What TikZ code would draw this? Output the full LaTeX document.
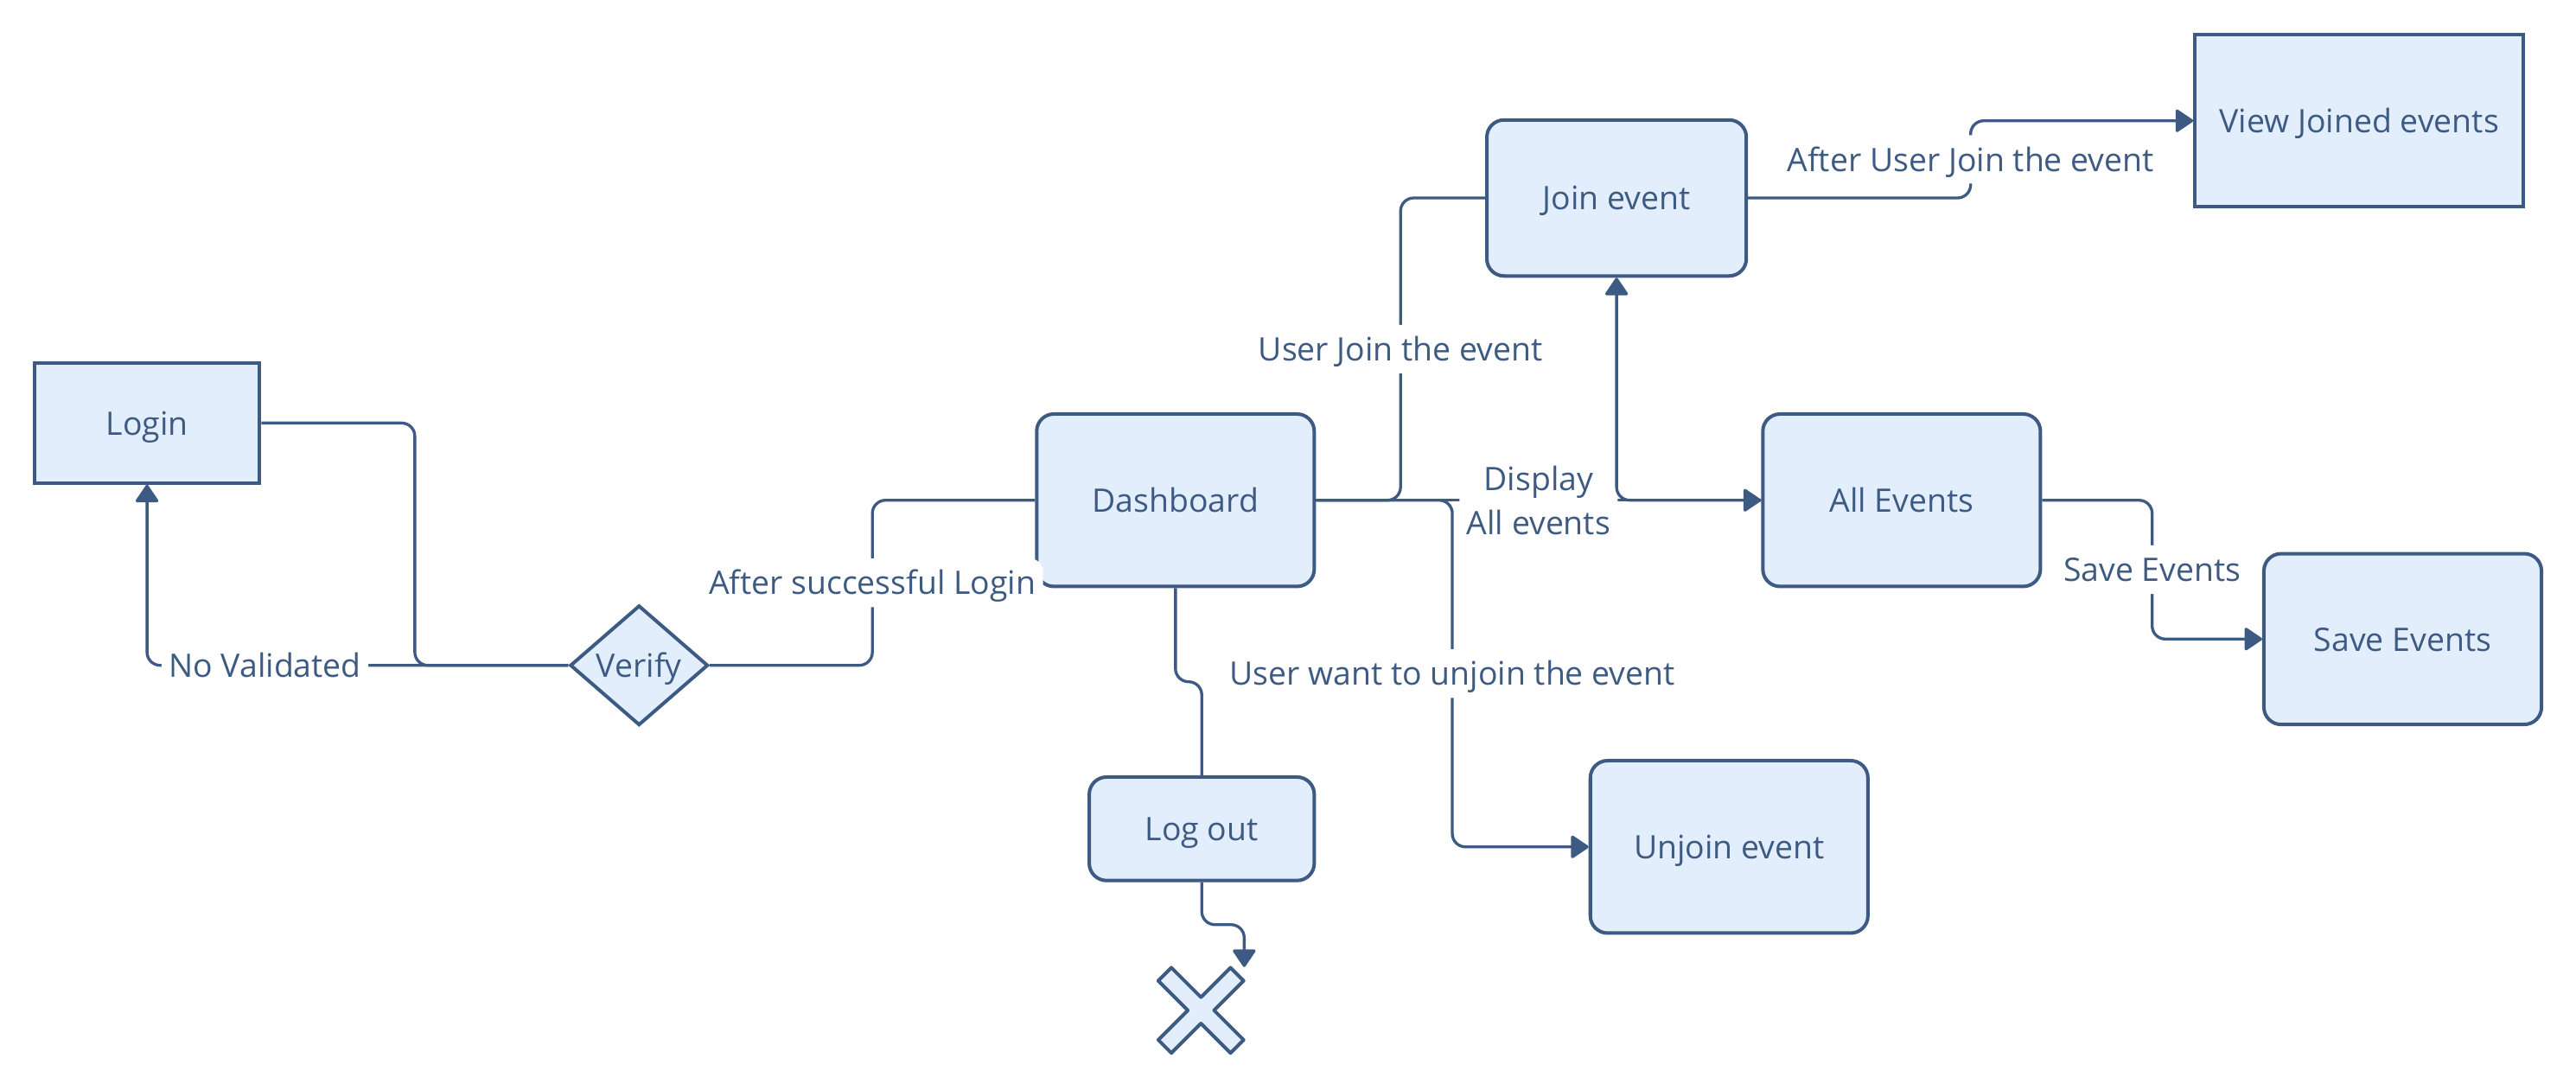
\documentclass[tikz,border=0pt]{standalone}
\usepackage{fontspec}
\setmainfont{Open Sans}
\usepackage{tikz}
\usetikzlibrary{%
  arrows.meta,%
  calc,%
  shapes.geometric,% wg. diamond
  positioning%
}
\definecolor{lineblue}{RGB}{61,90,130}
\definecolor{boxfill}{RGB}{227,238,253}

\begin{document}
\begin{tikzpicture}[
    x=0.02cm, y=-0.02cm,
    font=\fontsize{11.2}{13.5}\selectfont,
    box/.style={draw=lineblue, fill=boxfill, line width=1.2pt, text=lineblue,
      inner sep=0pt, text height=1em, text depth=0.18em},
    roundbox/.style={box, rounded corners=0.21cm},
    decision/.style={box, diamond, aspect=1.15},
    link/.style={draw=lineblue, line width=1pt, rounded corners=0.16cm},
    tip/.style={-{Triangle[length=6.5pt, width=8.5pt, round]}},
    lbl/.style={fill=white, text=lineblue, inner sep=2.5pt, align=center,
      text height=1em, text depth=0.18em}
  ]
  \useasboundingbox (0,0) rectangle (1568,663);

  % draw nodes
  \node[box, minimum width=2.74cm, minimum height=1.46cm] at (89.5,257.5) (login) {Login};
  \node[decision, minimum width=1.68cm, minimum height=1.46cm] at (389,405) (verify) {Verify};
  \node[roundbox, minimum width=3.38cm, minimum height=2.10cm] at (715.5,304.5) (dash) {Dashboard};
  \node[roundbox, minimum width=3.16cm, minimum height=1.90cm] at (984,120.5) (join) {Join event};
  \node[box, minimum width=4.00cm, minimum height=2.10cm] at (1436,73.5) (view) {View Joined events};
  \node[roundbox, minimum width=3.38cm, minimum height=2.10cm] at (1157.5,304.5) (all) {All Events};
  \node[roundbox, minimum width=3.38cm, minimum height=2.08cm] at (1462.5,389) (save) {Save Events};
  \node[roundbox, minimum width=3.38cm, minimum height=2.10cm] at (1052.5,515.5) (unjoin) {Unjoin event};
  \node[roundbox, minimum width=2.74cm, minimum height=1.26cm] at (731.5,504.5) (logout) {Log out};
  \node[minimum size=1.04cm, inner sep=0pt] at (731,615) (endx) {};
  \draw[box, line join=round, shift={(endx.center)}]
    (0,-8) -- (18,-26) -- (26,-18) -- (8,0) -- (26,18) -- (18,26) -- (0,8)
    -- (-18,26) -- (-26,18) -- (-8,0) -- (-26,-18) -- (-18,-26) -- cycle;
  \coordinate (jog1) at ($(dash.south)!.5!(logout.north)$);
  \coordinate (jog2) at ($(logout.south)!.5!(endx.north east)$);

  % draw connections
  \path[link] (login.east) -| ($(login.east)!.5!(verify.west)$) |- (verify.west);
  \path[link, tip] (verify.west) -| node[lbl, pos=.36] {No Validated} (login.south);
  \path[link] (verify.east) -| ($(verify.east)!.5!(dash.west)$)
    node[lbl] {After successful Login} |- (dash.west);
  \path[link] (dash.east) -| ($(dash.east)!.5!(join.west)$)
    node[lbl] {User Join the event} |- (join.west);
  \path[link, tip] (dash.east) -| ($(dash.east)!.5!(unjoin.west)$)
    node[lbl] {User want to unjoin the event} |- (unjoin.west);
  \path[link, tip] (dash.east) -- node[lbl, text height={}, text depth={},
    font=\fontsize{11.2}{15.2}\selectfont] {Display\\All events} (all.west);
  \path[link, tip] (all.west) -| (join.south);
  \path[link, tip] (join.east) -| ($(join.east)!.5!(view.west)$)
    node[lbl] {After User Join the event} |- (view.west);
  \path[link, tip] (all.east) -| ($(all.east)!.5!(save.west)$)
    node[lbl] {Save Events} |- (save.west);
  \path[link] (dash.south) -- (dash.south |- jog1) -- (logout.north |- jog1) -- (logout.north);
  \path[link, tip] (logout.south) -- (logout.south |- jog2) -- (endx.north east |- jog2)
    -- (endx.north east);
\end{tikzpicture}
\end{document}
